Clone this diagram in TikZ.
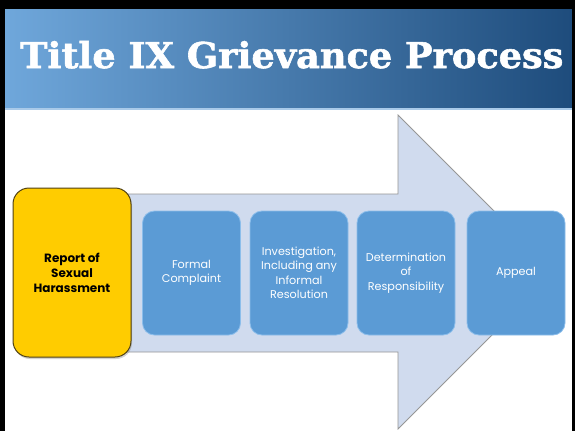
\documentclass[tikz,border=0pt]{standalone}
\usepackage{fontspec}
\setmainfont{DejaVu Serif}
\newfontfamily\titlefont{DejaVu Serif}[BoldFeatures={FakeBold=1.6}]
\newfontfamily\boxfont{Poppins}
\usetikzlibrary{shadows}
\definecolor{bandL}{RGB}{111,167,219}
\definecolor{bandR}{RGB}{30,76,124}
\definecolor{arrowfill}{RGB}{208,219,238}
\definecolor{arrowline}{RGB}{150,150,150}
\definecolor{stepblue}{RGB}{91,155,213}
\definecolor{stepedge}{RGB}{140,190,235}
\definecolor{repyellow}{RGB}{255,204,0}
\definecolor{repedge}{RGB}{80,65,20}
\tikzset{
  stepbox/.style={draw=stepedge, line width=0.8pt, fill=stepblue, rounded corners=12pt,
    minimum width=98pt, minimum height=124pt, text=white, align=center,
    font=\boxfont\fontsize{11.2}{14.5}\selectfont, inner sep=1pt},
  reportbox/.style={draw=repedge, line width=1pt, fill=repyellow, rounded corners=16pt,
    minimum width=118pt, minimum height=169pt, text=black, align=center,
    font=\boxfont\bfseries\fontsize{12}{15}\selectfont, inner sep=1pt,
    drop shadow={shadow xshift=1pt, shadow yshift=-2pt, opacity=0.35}},
}
\begin{document}
\begin{tikzpicture}[x=1pt,y=-1pt]
\useasboundingbox (0,0) rectangle (575,431);
\fill[white] (0,0) rectangle (575,431);
% title band
\shade[left color=bandL, right color=bandR] (5,9) rectangle (572,108);
\fill[bandL!60!white] (5,108) rectangle (572,110);
\node[anchor=base west, text=white, inner sep=0pt] (title) at (20,68)
  {\resizebox{543pt}{27pt}{\titlefont\bfseries Title IX Grievance Process}};
% big arrow
\draw[fill=arrowfill, draw=arrowline, line width=0.8pt]
  (60,194) -- (398,194) -- (398,115) -- (555,272) -- (398,429) -- (398,352) -- (60,352) -- cycle;
% steps
\node[reportbox] (report) at (72,272.5) {Report of\\Sexual\\Harassment};
\node[stepbox] (formal) at (191.5,273) {Formal\\Complaint};
\node[stepbox] (invest) at (299,273) {Investigation,\\Including any\\Informal\\Resolution};
\node[stepbox] (determ) at (406,273) {Determination\\of\\Responsibility};
\node[stepbox] (appeal) at (516,273) {Appeal};
% frame
\fill[black] (0,0) rectangle (575,9);
\fill[black] (0,0) rectangle (5,431);
\fill[black] (572,0) rectangle (575,431);
\end{tikzpicture}
\end{document}
